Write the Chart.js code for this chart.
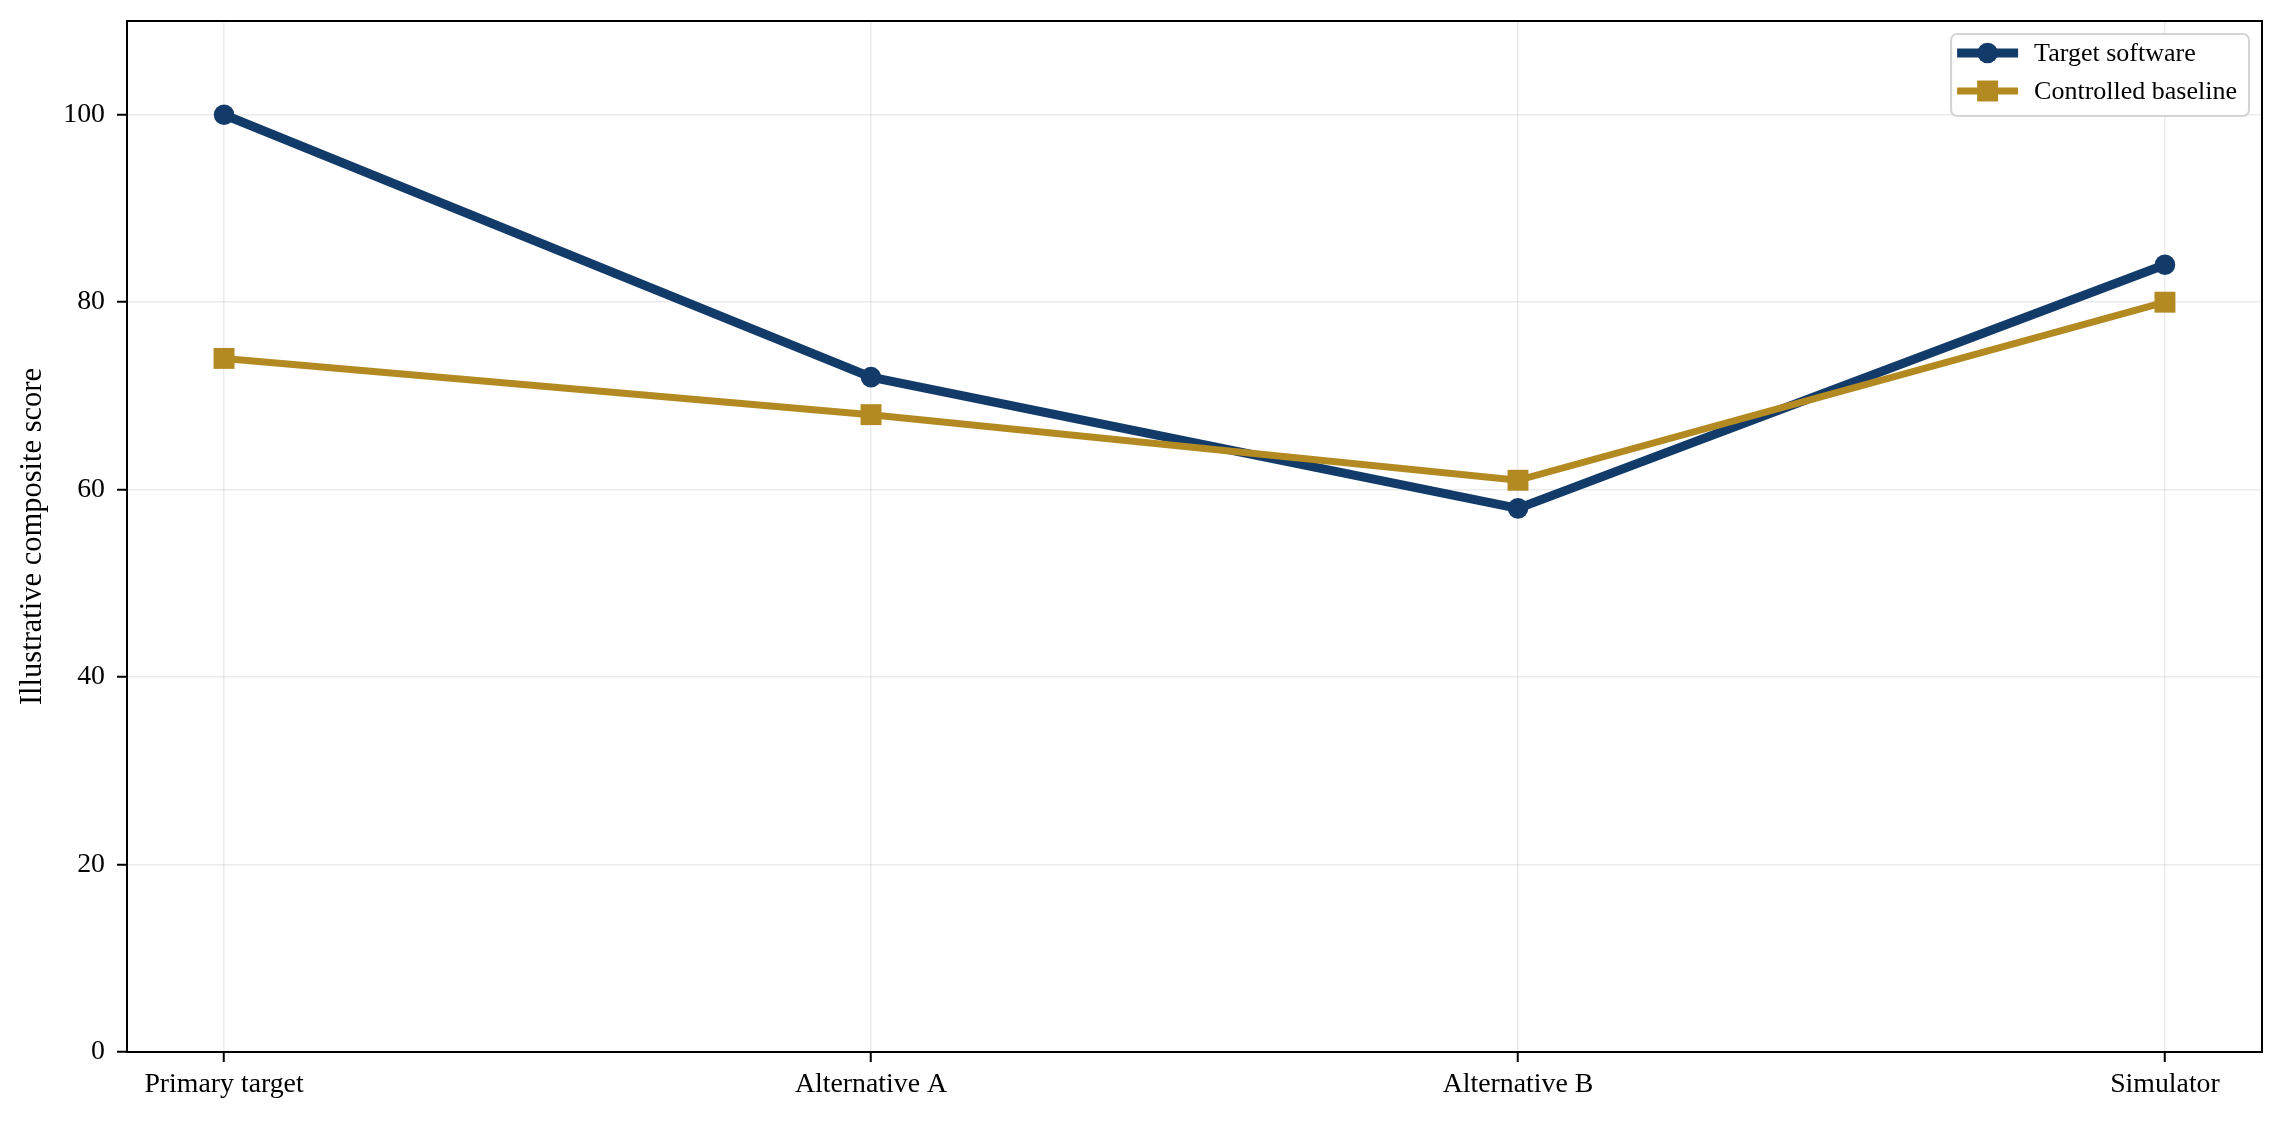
<!DOCTYPE html>
<html>
<head>
<meta charset="utf-8">
<title>Illustrative composite score</title>
<script src="https://cdn.jsdelivr.net/npm/chart.js@4.4.1/dist/chart.umd.min.js"></script>
<style>
    html, body { margin: 0; padding: 0; background: #ffffff; }
    #wrap { width: 2284px; height: 1121px; position: relative; }
</style>
</head>
<body>
<div id="wrap"><canvas id="myChart"></canvas></div>
<script>
// Chart data
const categories = ['Primary target', 'Alternative A', 'Alternative B', 'Simulator'];
const targetSoftware = [100, 72, 58, 84];
const controlledBaseline = [74, 68, 61, 80];
const yTicks = [0, 20, 40, 60, 80, 100];

const BLUE = '#133b69';
const GOLD = '#b38a22';
const SERIF = '"Liberation Serif", "Times New Roman", serif';

function toPoints(values) {
    return values.map((v, i) => ({ x: i, y: v }));
}

// Black frame round the plot area (top and right sides)
const framePlugin = {
    id: 'frame',
    afterDraw(chart) {
        const { ctx, chartArea } = chart;
        ctx.save();
        ctx.strokeStyle = '#000000';
        ctx.lineWidth = 2;
        ctx.strokeRect(chartArea.left, chartArea.top,
            chartArea.right - chartArea.left, chartArea.bottom - chartArea.top);
        ctx.restore();
    }
};

// Legend inside the plot, line + marker samples
const legendPlugin = {
    id: 'insideLegend',
    afterDraw(chart) {
        const { ctx, chartArea } = chart;
        const sets = chart.data.datasets;
        ctx.save();
        ctx.font = '26px ' + SERIF;
        let textW = 0;
        sets.forEach(ds => { textW = Math.max(textW, ctx.measureText(ds.label).width); });
        const boxW = 83 + textW + 12;
        const boxH = 82;
        const right = chartArea.right - 13;
        const top = chartArea.top + 13;
        const left = right - boxW;

        ctx.beginPath();
        ctx.roundRect(left, top, boxW, boxH, 6);
        ctx.fillStyle = 'rgba(255,255,255,0.85)';
        ctx.fill();
        ctx.strokeStyle = '#d4d4d4';
        ctx.lineWidth = 2;
        ctx.stroke();

        sets.forEach((ds, i) => {
            const cy = top + 19 + i * 38;
            const x0 = left + 6, x1 = left + 67, cx = (x0 + x1) / 2;
            ctx.strokeStyle = ds.borderColor;
            ctx.lineWidth = ds.borderWidth;
            ctx.beginPath();
            ctx.moveTo(x0, cy);
            ctx.lineTo(x1, cy);
            ctx.stroke();
            ctx.fillStyle = ds.borderColor;
            if (ds.pointStyle === 'rect') {
                const s = ds.pointRadius * Math.SQRT1_2;
                ctx.fillRect(cx - s, cy - s, 2 * s, 2 * s);
            } else {
                ctx.beginPath();
                ctx.arc(cx, cy, ds.pointRadius, 0, Math.PI * 2);
                ctx.fill();
            }
            ctx.fillStyle = '#000000';
            ctx.textBaseline = 'middle';
            ctx.textAlign = 'left';
            ctx.fillText(ds.label, left + 83, cy + 1);
        });
        ctx.restore();
    }
};

document.addEventListener('DOMContentLoaded', function() {
    const ctx = document.getElementById('myChart');
    new Chart(ctx, {
        type: 'line',
        data: {
            datasets: [
                {
                    label: 'Target software',
                    data: toPoints(targetSoftware),
                    borderColor: BLUE,
                    backgroundColor: BLUE,
                    borderWidth: 9,
                    pointStyle: 'circle',
                    pointRadius: 10.3,
                    pointBorderWidth: 0,
                    pointBackgroundColor: BLUE,
                    order: 1,
                    tension: 0,
                    fill: false
                },
                {
                    label: 'Controlled baseline',
                    data: toPoints(controlledBaseline),
                    borderColor: GOLD,
                    backgroundColor: GOLD,
                    borderWidth: 7,
                    pointStyle: 'rect',
                    pointRadius: 14.8,
                    pointBorderWidth: 0,
                    pointBackgroundColor: GOLD,
                    order: 0,
                    tension: 0,
                    fill: false
                }
            ]
        },
        options: {
            responsive: true,
            maintainAspectRatio: false,
            animation: false,
            layout: { padding: { left: 0, top: 21, right: 22, bottom: 0 } },
            plugins: {
                legend: { display: false },
                tooltip: { enabled: false }
            },
            scales: {
                x: {
                    type: 'linear',
                    min: -0.15,
                    max: categories.length - 1 + 0.15,
                    afterBuildTicks: axis => { axis.ticks = categories.map((c, i) => ({ value: i })); },
                    afterFit: axis => {
                        axis.height = 69;
                        axis.paddingLeft = 0;
                        axis.paddingRight = 0;
                    },
                    ticks: {
                        callback: value => categories[value],
                        color: '#000000',
                        font: { family: SERIF, size: 27.8 },
                        padding: 6,
                        maxRotation: 0,
                        autoSkip: false
                    },
                    grid: {
                        color: 'rgba(0,0,0,0.08)',
                        lineWidth: 1.5,
                        tickColor: '#000000',
                        tickWidth: 2,
                        tickLength: 10
                    },
                    border: { color: '#000000', width: 2 }
                },
                y: {
                    min: 0,
                    max: 110,
                    afterBuildTicks: axis => { axis.ticks = yTicks.map(v => ({ value: v })); },
                    afterFit: axis => {
                        axis.width = 127;
                        axis.paddingTop = 0;
                        axis.paddingBottom = 0;
                    },
                    ticks: {
                        color: '#000000',
                        font: { family: SERIF, size: 27.8 },
                        padding: 12
                    },
                    grid: {
                        color: 'rgba(0,0,0,0.08)',
                        lineWidth: 1.5,
                        tickColor: '#000000',
                        tickWidth: 2,
                        tickLength: 10
                    },
                    border: { color: '#000000', width: 2 },
                    title: {
                        display: true,
                        text: 'Illustrative composite score',
                        color: '#000000',
                        font: { family: SERIF, size: 30.5 },
                        padding: { top: 15, bottom: 0 }
                    }
                }
            }
        },
        plugins: [framePlugin, legendPlugin]
    });
});
</script>
</body>
</html>
